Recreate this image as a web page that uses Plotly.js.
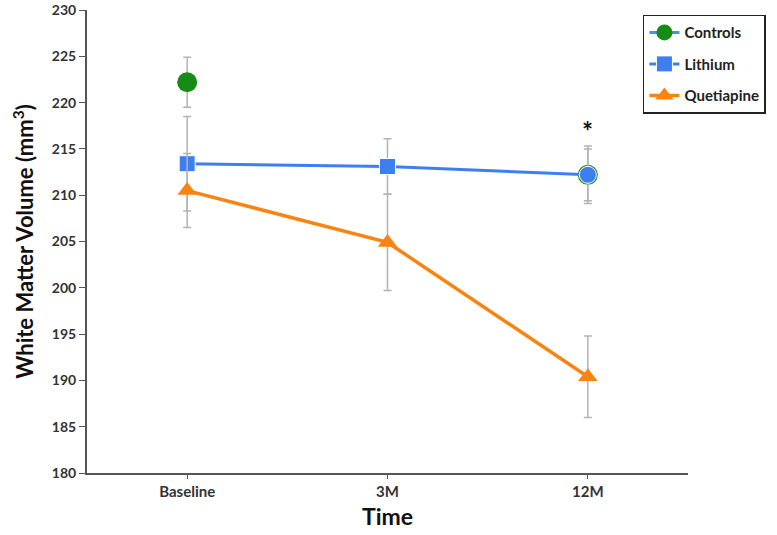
<!DOCTYPE html>
<html>
<head>
<meta charset="utf-8">
<script src="https://cdn.plot.ly/plotly-3.0.1.min.js"></script>
<style>
  html, body { margin: 0; padding: 0; background: #fff; }
  #chart { width: 777px; height: 535px; }
</style>
</head>
<body>
<div id="chart"></div>
<script>
// White matter volume over time, per group (mean +/- error)
const timepoints = ['Baseline', '3M', '12M'];

const controlsVals = [222.2, null, 212.2];
const controlsErr = [2.7, 0, 2.8];

const lithiumVals = [213.4, 213.1, 212.2];
const lithiumErr = [5.1, 3.0, 3.1];

const quetiapineVals = [210.5, 204.9, 190.4];
const quetiapineErr = [4.0, 5.2, 4.4];

// significance marker
const starX = ['12M'];
const starY = [216.9];

const fontFamily = 'Lato, "Open Sans", sans-serif';
const errStyle = (arr) => ({
    type: 'data', array: arr, visible: true,
    color: '#b3b3b3', thickness: 1.5, width: 4
});

const data = [
    {
        name: 'Controls', x: timepoints, y: controlsVals,
        type: 'scatter', mode: 'lines+markers', connectgaps: false,
        line: { color: '#4f8ee6', width: 3 },
        marker: { color: '#168c16', size: 20, symbol: 'circle', opacity: 1 },
        error_y: errStyle(controlsErr),
        legendgroup: 'a'
    },
    {
        name: 'Lithium', x: timepoints, y: lithiumVals,
        type: 'scatter', mode: 'lines+markers',
        line: { color: '#3d7ff0', width: 3 },
        marker: { color: '#3d7ff0', size: [16, 16, 17], symbol: ['square', 'square', 'circle'], opacity: 1 },
        error_y: errStyle(lithiumErr),
        legendgroup: 'b'
    },
    {
        name: 'Quetiapine', x: timepoints, y: quetiapineVals,
        type: 'scatter', mode: 'lines+markers',
        line: { color: '#f98412', width: 3.5 },
        marker: { color: '#f98412', size: 17, symbol: 'triangle-up', opacity: 1 },
        error_y: errStyle(quetiapineErr),
        legendgroup: 'c'
    }
];

const layout = {
    width: 777, height: 535,
    margin: { l: 87, r: 89, t: 10, b: 62 },
    paper_bgcolor: '#fff',
    plot_bgcolor: '#fff',
    font: { family: fontFamily, color: '#333', weight: 'bold' },
    showlegend: true,
    legend: {
        x: 0.925, y: 0.99, xanchor: 'left', yanchor: 'top',
        bordercolor: '#222', borderwidth: 1.5, bgcolor: '#fff',
        font: { family: fontFamily, size: 15, color: '#222', weight: 'bold' },
        tracegroupgap: 9
    },
    xaxis: {
        type: 'category', range: [-0.5, 2.5],
        showline: true, linecolor: '#555', linewidth: 2,
        ticks: 'outside', ticklen: 4, tickcolor: '#555',
        showgrid: false, zeroline: false,
        tickfont: { family: fontFamily, size: 15, color: '#333', weight: 'bold' },
        title: { text: 'Time', font: { family: fontFamily, size: 23, color: '#111', weight: 'bold' }, standoff: 10 }
    },
    yaxis: {
        range: [180, 230], dtick: 5,
        showline: true, linecolor: '#555', linewidth: 2,
        ticks: 'outside', ticklen: 6, tickcolor: '#555',
        showgrid: false, zeroline: false,
        tickfont: { family: fontFamily, size: 14, color: '#333', weight: 'bold' },
        title: { text: 'White Matter Volume (mm<sup>3</sup>)', font: { family: fontFamily, size: 22, color: '#111', weight: 'bold' }, standoff: 12 }
    },
    annotations: starX.map((xv, i) => ({
        x: xv, y: starY[i], text: '*', showarrow: false,
        font: { family: fontFamily, size: 26, color: '#111', weight: 'bold' }
    }))
};

Plotly.newPlot('chart', data, layout, { displayModeBar: false, responsive: false });
</script>
</body>
</html>
